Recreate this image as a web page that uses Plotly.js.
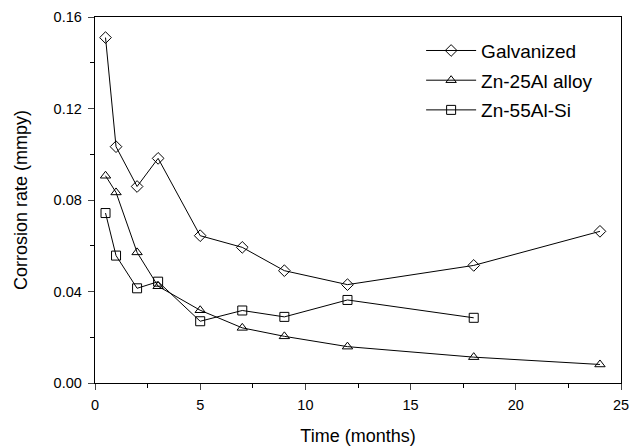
<!DOCTYPE html>
<html>
<head>
<meta charset="utf-8">
<script src="https://cdn.plot.ly/plotly-3.0.1.min.js"></script>
<style>html,body{margin:0;padding:0;background:#fff;}#chart{width:631px;height:448px;}</style>
</head>
<body>
<div id="chart"></div>
<script>
const months = [0.5, 1, 2, 3, 5, 7, 9, 12, 18, 24];
const monthsSi = [0.5, 1, 2, 3, 5, 7, 9, 12, 18];
const galvanized = [0.151, 0.1033, 0.0859, 0.0982, 0.0644, 0.0593, 0.0491, 0.0430, 0.0514, 0.0663];
const zn25al = [0.0906, 0.0833, 0.0571, 0.0423, 0.0318, 0.0241, 0.0204, 0.0159, 0.0113, 0.0081];
const zn55alsi = [0.0743, 0.0557, 0.0414, 0.0443, 0.0270, 0.0317, 0.0289, 0.0363, 0.0285];
const names = ['Galvanized', 'Zn-25Al alloy', 'Zn-55Al-Si'];

const font = 'Liberation Sans, Arial, sans-serif';
function tr(x, y, name, sym, g) {
  return {x: x, y: y, name: name, type: 'scatter', mode: 'lines+markers', legendgroup: g,
    line: {color: '#000', width: 1},
    marker: {symbol: sym, size: 9, color: '#000', line: {color: '#000', width: 1}}};
}
const data = [
  tr(months, galvanized, names[0], 'diamond-open', 'a'),
  tr(months, zn25al, names[1], 'triangle-up-open', 'b'),
  tr(monthsSi, zn55alsi, names[2], 'square-open', 'c')
];
const layout = {
  width: 631, height: 448,
  margin: {l: 95, r: 9.5, t: 17, b: 64.5},
  paper_bgcolor: '#fff', plot_bgcolor: '#fff',
  font: {family: font, color: '#000', size: 14},
  showlegend: true,
  legend: {x: 0.62, y: 0.96, xanchor: 'left', yanchor: 'top', bgcolor: 'rgba(0,0,0,0)',
    font: {size: 19, family: font}, itemwidth: 50, tracegroupgap: 2},
  xaxis: {range: [0, 25], dtick: 5, tick0: 0, ticks: 'outside', ticklen: 6, tickwidth: 1,
    ticklabelstandoff: 2,
    showgrid: false, zeroline: false, showline: true, linecolor: '#000', linewidth: 1.3, mirror: true,
    minor: {ticks: 'outside', ticklen: 4, dtick: 2.5, tick0: 0, tickcolor: '#000', showgrid: false},
    tickfont: {size: 14.5}, title: {text: 'Time (months)', font: {size: 18}, standoff: 17}},
  yaxis: {range: [0, 0.16], dtick: 0.04, tick0: 0, tickformat: '.2f', ticks: 'outside', ticklen: 6, tickwidth: 1,
    ticklabelstandoff: 3,
    showgrid: false, zeroline: false, showline: true, linecolor: '#000', linewidth: 1.3, mirror: true,
    minor: {ticks: 'outside', ticklen: 4, dtick: 0.02, tick0: 0, tickcolor: '#000', showgrid: false},
    tickfont: {size: 14.5}, title: {text: 'Corrosion rate (mmpy)', font: {size: 18}, standoff: 21}}
};
Plotly.newPlot('chart', data, layout, {staticPlot: true});
</script>
</body>
</html>
